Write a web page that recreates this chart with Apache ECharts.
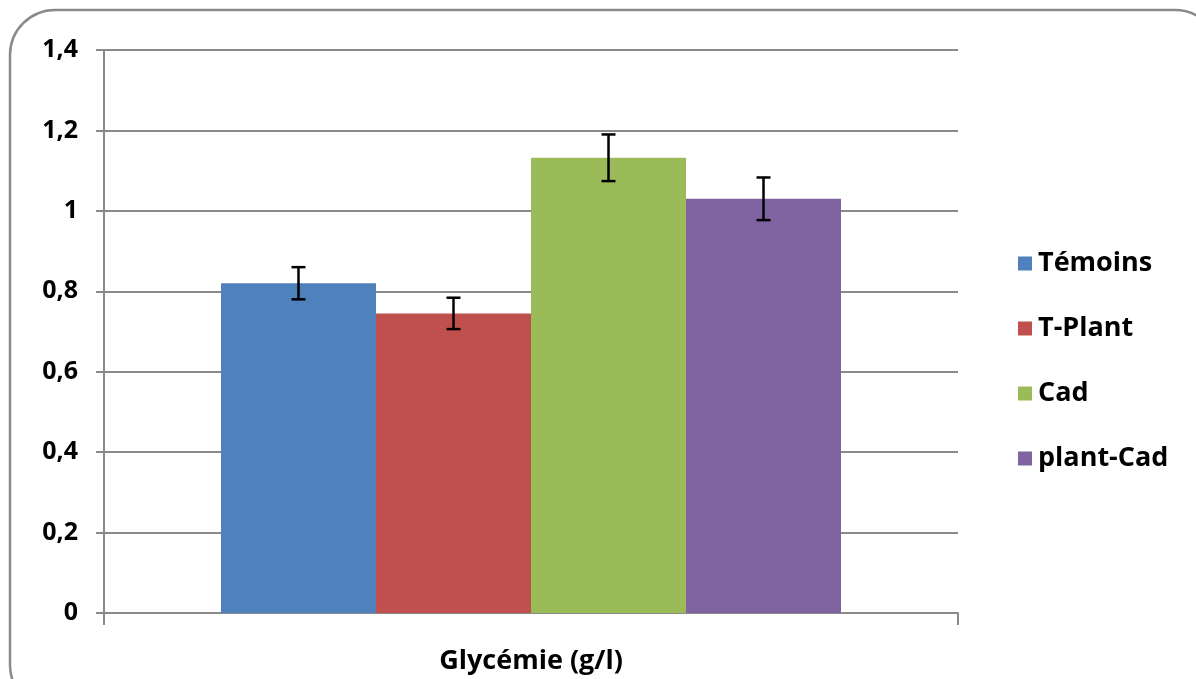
<!DOCTYPE html>
<html>
<head>
<meta charset="utf-8">
<script src="https://cdn.jsdelivr.net/npm/echarts@6/dist/echarts.min.js"></script>
<style>
html,body{margin:0;padding:0;background:#fff;}
#chart{width:1196px;height:679px;}
</style>
</head>
<body>
<div id="chart"></div>
<script>
const categories = ['Glycémie (g/l)'];
const seriesNames = ['Témoins', 'T-Plant', 'Cad', 'plant-Cad'];
const seriesValues = [0.82, 0.745, 1.132, 1.03];
const errorValues = [0.04, 0.039, 0.058, 0.053];
const colors = ['#4f81bd', '#c0504d', '#9bbb59', '#8064a2'];
const yTicks = [0, 0.2, 0.4, 0.6, 0.8, 1, 1.2, 1.4];

const FONT = '"Open Sans", Lato, sans-serif';
const CAT_GAP = 0.274;

const chart = echarts.init(document.getElementById('chart'));

const barSeries = seriesNames.map((name, i) => ({
  name: name,
  type: 'bar',
  data: [seriesValues[i]],
  itemStyle: { color: colors[i] },
  barGap: '0%',
  barCategoryGap: (CAT_GAP * 100) + '%',
  z: 2
}));

const errorSeries = {
  type: 'custom',
  name: 'err',
  data: seriesValues.map((v, i) => [0, v, errorValues[i], i]),
  encode: { x: 0, y: 1 },
  z: 5,
  renderItem: function (params, api) {
    const v = api.value(1), e = api.value(2), idx = api.value(3);
    const band = api.size([1, 0])[0];
    const bw = band * (1 - CAT_GAP) / seriesNames.length;
    const c = api.coord([0, v]);
    const x = c[0] + (idx - (seriesNames.length - 1) / 2) * bw;
    const top = api.coord([0, v + e])[1];
    const bot = api.coord([0, v - e])[1];
    const hw = 7;
    const style = { stroke: '#000', lineWidth: 2.5 };
    return {
      type: 'group',
      children: [
        { type: 'line', shape: { x1: x, y1: top, x2: x, y2: bot }, style: style },
        { type: 'line', shape: { x1: x - hw, y1: top, x2: x + hw, y2: top }, style: style },
        { type: 'line', shape: { x1: x - hw, y1: bot, x2: x + hw, y2: bot }, style: style }
      ]
    };
  }
};

chart.setOption({
  animation: false,
  backgroundColor: '#fff',
  color: colors,
  graphic: [{
    type: 'rect',
    shape: { x: 10, y: 10, width: 1210, height: 700, r: 45 },
    style: { fill: 'none', stroke: '#8a8a8a', lineWidth: 2.5 },
    z: -10,
    silent: true
  }],
  grid: { left: 104, right: 238, top: 50, bottom: 66, containLabel: false },
  legend: {
    orient: 'vertical',
    left: 1013,
    top: 245,
    itemWidth: 14,
    itemHeight: 14,
    itemGap: 38,
    icon: 'rect',
    data: seriesNames,
    textStyle: { fontFamily: FONT, fontSize: 27, fontWeight: 'bold', color: '#000', padding: [0, 0, 0, 1] }
  },
  xAxis: {
    type: 'category',
    data: categories,
    axisLine: { lineStyle: { color: '#8a8a8a', width: 2 } },
    axisTick: { show: true, length: 12, lineStyle: { color: '#8a8a8a', width: 2 } },
    axisLabel: { fontFamily: FONT, fontSize: 27, fontWeight: 'bold', color: '#000', margin: 35 }
  },
  yAxis: {
    type: 'value',
    min: 0,
    max: 1.4,
    interval: 0.2,
    axisLine: { show: true, lineStyle: { color: '#8a8a8a', width: 2 } },
    axisTick: { show: true, length: 8, lineStyle: { color: '#8a8a8a', width: 2 } },
    splitLine: { lineStyle: { color: '#8a8a8a', width: 2 } },
    axisLabel: {
      fontFamily: FONT, fontSize: 25, fontWeight: 'bold', color: '#000', margin: 26,
      formatter: function (v) {
        const t = yTicks.find(x => Math.abs(x - v) < 1e-9);
        const val = t === undefined ? v : t;
        return String(+val.toFixed(1)).replace('.', ',');
      }
    }
  },
  series: barSeries.concat([errorSeries])
});
</script>
</body>
</html>
